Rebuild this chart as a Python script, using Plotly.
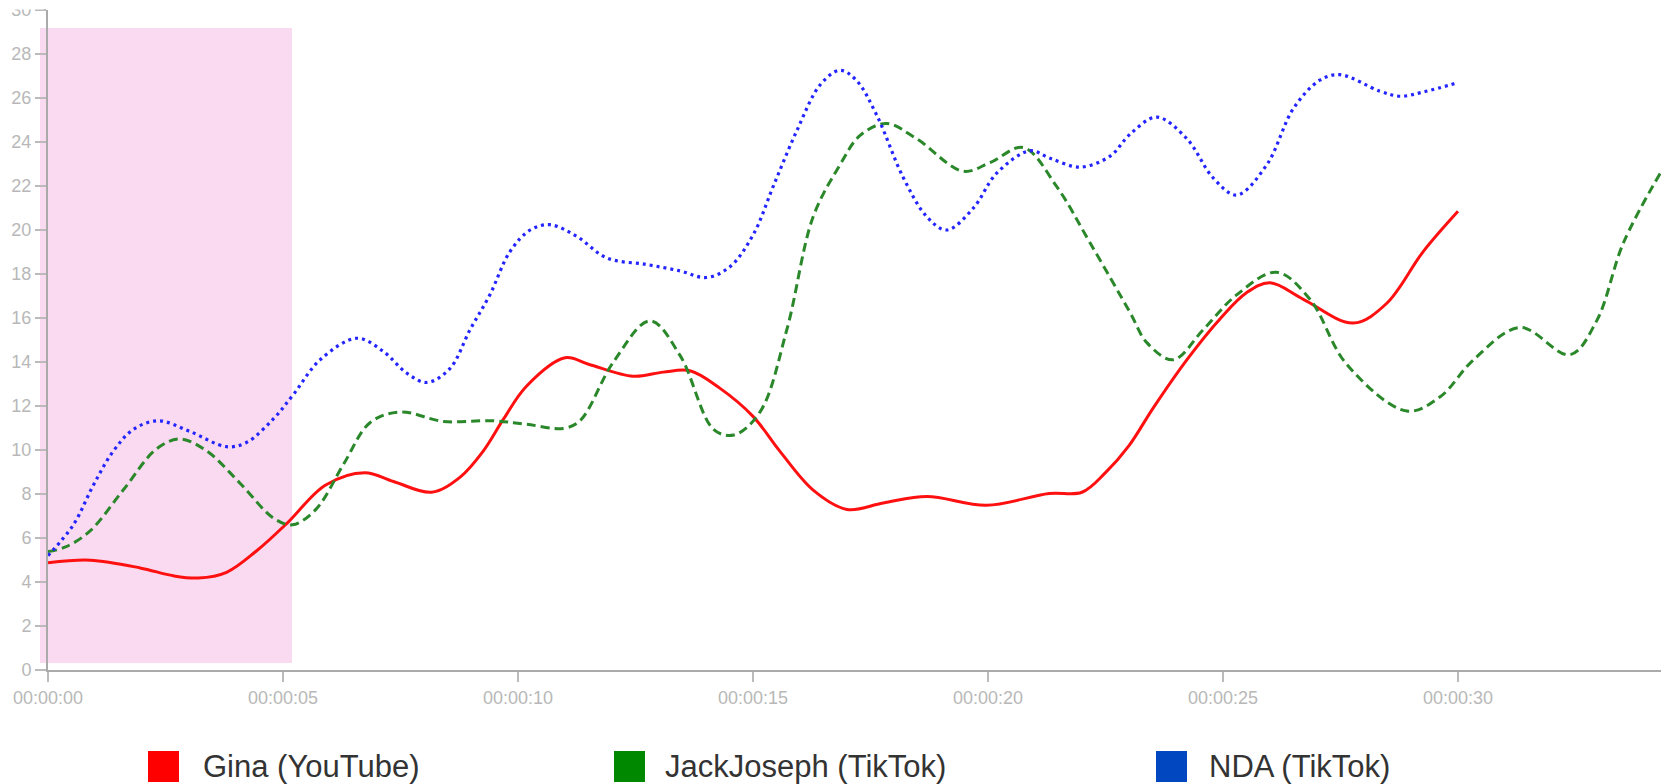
import plotly.graph_objects as go

# ---- data (seconds, value) ----
gina_t = [0, 0.9, 1.96, 2.67, 3.2, 3.8, 4.44, 5.1, 5.9, 6.74, 7.35, 8.16, 8.77,
          9.26, 9.69, 10.18, 11.0, 11.5, 12.45, 13.09, 13.66, 14.3, 15.0, 15.57, 16.28, 17.0,
          17.77, 18.7, 19.97, 21.3, 22.0, 22.5, 23.0, 23.52, 24.23, 24.94, 25.5, 26.0, 26.71,
          27.77, 28.48, 29.26, 30.0]
gina_v = [4.87, 4.99, 4.64, 4.28, 4.18, 4.44, 5.42, 6.7, 8.4, 8.97, 8.57, 8.08, 8.77,
          9.95, 11.4, 12.9, 14.19, 13.9, 13.35, 13.54, 13.6, 12.8, 11.53, 9.95, 8.18, 7.3,
          7.59, 7.89, 7.49, 8.02, 8.08, 8.97, 10.2, 11.93, 14.1, 15.97, 17.15, 17.6, 16.85,
          15.77, 16.66, 19.02, 20.85]

jack_t = [0, 0.36, 0.89, 1.6, 2.31, 2.81, 3.38, 4.09, 4.8, 5.2, 5.7, 6.3, 6.85, 7.49, 8.41,
          9.47, 10.18, 10.96, 11.32, 12.03, 12.81, 13.45, 14.16, 14.59, 15.15, 15.72, 16.28,
          16.85, 17.28, 17.84, 18.48, 19.47, 20.04, 20.75, 21.46, 22.17, 23.02, 23.38, 23.94,
          24.58, 25.29, 26.14, 26.85, 27.63, 28.91, 29.62, 30.33, 31.32, 32.38, 32.95, 33.52,
          34.3]
jack_v = [5.38, 5.58, 6.31, 8.18, 10.05, 10.5, 9.95, 8.48, 6.9, 6.6, 7.3, 9.4, 11.24, 11.73,
          11.3, 11.33, 11.17, 10.98, 11.33, 14.0, 15.87, 14.29, 10.94, 10.68, 11.73, 15.47,
          20.6, 22.96, 24.3, 24.84, 24.15, 22.67, 23.06, 23.75, 21.98, 19.42, 16.26, 14.88,
          14.1, 15.47, 17.05, 18.08, 16.85, 13.9, 11.77, 12.42, 14.1, 15.57, 14.33, 15.87,
          19.42, 22.57]

nda_t = [0, 0.54, 0.96, 1.39, 1.82, 2.35, 3.02, 3.8, 4.23, 4.8, 5.22, 5.79, 6.57, 7.13, 7.63,
         8.06, 8.55, 8.98, 9.4, 9.83, 10.26, 10.68, 11.25, 11.89, 12.74, 13.45, 14.01, 14.51,
         15.01, 15.43, 15.93, 16.43, 16.85, 17.2, 17.63, 18.2, 18.7, 19.12, 19.69, 20.18,
         20.89, 21.32, 21.96, 22.6, 23.02, 23.59, 24.23, 24.79, 25.29, 25.93, 26.5, 27.06,
         27.49, 28.34, 28.77, 29.26, 30.0]
nda_v = [5.2, 6.6, 8.38, 9.95, 10.94, 11.33, 10.84, 10.15, 10.35, 11.43, 12.52, 14.1, 15.08,
         14.49, 13.5, 13.07, 13.7, 15.47, 17.05, 19.02, 20.0, 20.24, 19.71, 18.73, 18.43, 18.14,
         17.84, 18.33, 19.81, 21.98, 24.5, 26.6, 27.26, 26.8, 25.23, 22.37, 20.6, 20.0, 21.0,
         22.57, 23.6, 23.26, 22.86, 23.36, 24.35, 25.13, 24.15, 22.37, 21.59, 22.96, 25.53,
         26.81, 27.06, 26.31, 26.08, 26.27, 26.7]

series_names = ["Gina (YouTube)", "JackJoseph (TikTok)", "NDA (TikTok)"]
line_colors = ["#ff1010", "#2a882a", "#2424ff"]
swatch_colors = ["#ff0000", "#008800", "#0047c0"]

x_ticks = [0, 5, 10, 15, 20, 25, 30]
x_tick_text = ["00:00:00", "00:00:05", "00:00:10", "00:00:15", "00:00:20", "00:00:25", "00:00:30"]
y_ticks = list(range(0, 31, 2))

# ---- figure geometry (pixels) ----
W, H = 1661, 784
ML, MR, MT, MB = 48, 0, 10, 114
PW, PH = W - ML - MR, H - MT - MB
PX_PER_SEC = 47.0
FONT = "Liberation Sans, Arial, sans-serif"


def px_x(px):
    return (px - ML) / PW


def px_y(py):
    return (H - MB - py) / PH


fig = go.Figure()

styles = [
    dict(width=3),
    dict(width=3, dash="9px,5px"),
    dict(width=3.2, dash="3px,4px"),
]
for name, t, v, col, st in zip(series_names, [gina_t, jack_t, nda_t],
                               [gina_v, jack_v, nda_v], line_colors, styles):
    fig.add_trace(go.Scatter(
        x=t, y=v, name=name, mode="lines",
        line=dict(color=col, shape="spline", smoothing=1.0, **st),
        hoverinfo="skip", showlegend=False,
    ))

shapes = []
# highlighted opening segment
shapes.append(dict(type="rect", xref="paper", yref="paper",
                   x0=px_x(40), x1=px_x(292), y0=px_y(663), y1=px_y(28),
                   fillcolor="#f9daf0", line=dict(width=0), layer="below"))
# top strip of the page sits above the chart and hides the top of the last tick label
shapes.append(dict(type="rect", xref="paper", yref="paper",
                   x0=px_x(0), x1=px_x(44), y0=px_y(9.5), y1=px_y(-2),
                   fillcolor="white", line=dict(width=0), layer="above"))

# legend swatches and labels
annotations = []
legend_sq_x = [148, 614, 1156]
legend_tx_x = [201, 663, 1207]
for name, col, sx, tx in zip(series_names, swatch_colors, legend_sq_x, legend_tx_x):
    shapes.append(dict(type="rect", xref="paper", yref="paper",
                       x0=px_x(sx), x1=px_x(sx + 31), y0=px_y(782), y1=px_y(751),
                       fillcolor=col, line=dict(width=0), layer="above"))
    annotations.append(dict(xref="paper", yref="paper", x=px_x(tx), y=px_y(766),
                            xanchor="left", yanchor="middle", showarrow=False,
                            text=name, font=dict(size=31, color="#333333", family=FONT)))

axis_common = dict(
    showgrid=False, zeroline=False, showline=True, linecolor="#aaaaaa", linewidth=2,
    ticks="outside", tickcolor="#bbbbbb", tickwidth=2,
    tickfont=dict(size=18, color="#b8b8b8", family=FONT),
)

fig.update_layout(
    width=W, height=H, autosize=False,
    margin=dict(l=ML, r=MR, t=MT, b=MB, pad=0),
    paper_bgcolor="white", plot_bgcolor="rgba(0,0,0,0)",
    shapes=shapes, annotations=annotations,
    xaxis=dict(range=[0, PW / PX_PER_SEC], tickmode="array", tickvals=x_ticks,
               ticktext=x_tick_text, ticklen=10, **axis_common),
    yaxis=dict(range=[0, 30], tickmode="array", tickvals=y_ticks, ticklen=11, **axis_common),
)

fig.write_html("out.html")
